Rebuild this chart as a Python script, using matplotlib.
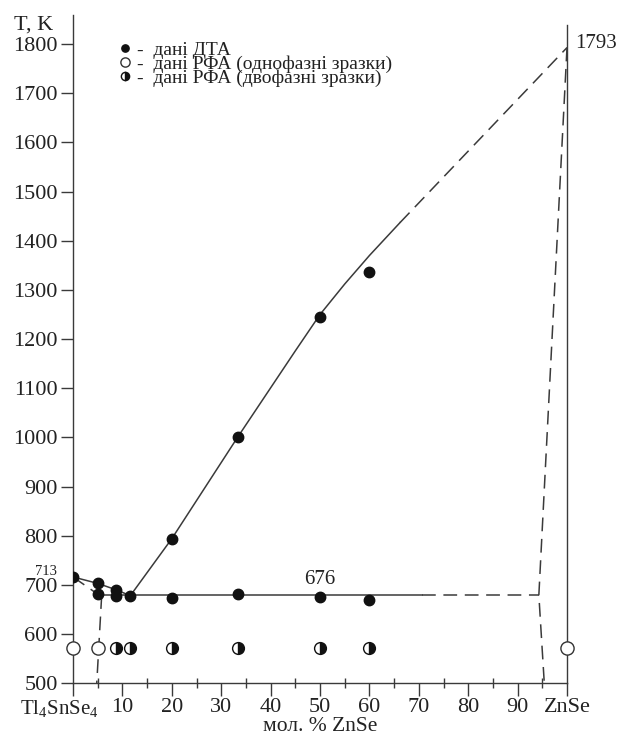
#!/usr/bin/env python3

import matplotlib
matplotlib.use('Agg')
import matplotlib.pyplot as plt
import matplotlib.transforms as mtransforms
from matplotlib.ticker import MultipleLocator, FixedLocator

plt.rcParams['font.family'] = ['Liberation Serif', 'DejaVu Serif']
plt.rcParams['mathtext.fontset'] = 'custom'
plt.rcParams['mathtext.rm'] = 'Liberation Serif'

# DTA points (filled)
dta_x = [0, 5, 5, 8.7, 8.7, 11.6, 20, 20, 33.3, 33.3, 50, 50, 60, 60]
dta_t = [716, 703, 682, 690, 677, 677, 674, 794, 1000, 681, 1245, 675, 1336, 670]

# XRD points at 573 K
rfa_one_x = [0, 5, 100]
rfa_two_x = [8.7, 11.6, 20, 33.3, 50, 60]
rfa_t = 571

# phase boundaries
liq_left_x = [0, 5, 8.7, 11.6]
liq_left_t = [716, 703, 690, 678]
liq_x = [11.6, 20, 33.3, 45, 50, 55, 60, 66.2]
liq_t = [678, 794, 1000, 1176, 1250, 1312, 1370, 1437]
liq_dash_x = [66.2, 100]
liq_dash_t = [1437, 1793]
sol_left_x = [0, 5]
sol_left_t = [716, 681]
solv_left_x = [5.8, 4.8]
solv_left_t = [679, 500]
eut_x = [5.5, 70.6]
eut_dash_x = [70.6, 94.3]
eut_t = 679
zn_sol_x = [100, 94.3, 95.4]
zn_sol_t = [1793, 679, 500]

xticks = [0, 10, 20, 30, 40, 50, 60, 70, 80, 90, 100]
xticklabels = ['Tl$_\\mathregular{4}$SnSe$_\\mathregular{4}$', '10', '20', '30', '40', '50',
               '60', '70', '80', '90', 'ZnSe']
yticks = list(range(500, 1801, 100))

lc = '#3a3a3a'
tc = '#222222'
dash = (0, (9, 5))
lw = 1.1

fig = plt.figure(figsize=(6.19, 7.33), dpi=100)
ax = fig.add_axes([0.118, 0.068, 0.798, 0.912])

ax.plot(liq_left_x, liq_left_t, color=lc, lw=lw)
ax.plot(liq_x, liq_t, color=lc, lw=lw)
ax.plot(liq_dash_x, liq_dash_t, color=lc, lw=lw, ls=dash)
ax.plot(sol_left_x, sol_left_t, color=lc, lw=lw, ls=dash)
ax.plot(solv_left_x, solv_left_t, color=lc, lw=lw, ls=dash)
ax.plot(eut_x, [eut_t, eut_t], color=lc, lw=lw)
ax.plot(eut_dash_x, [eut_t, eut_t], color=lc, lw=lw, ls=dash)
ax.plot(zn_sol_x, zn_sol_t, color=lc, lw=lw, ls=dash)

h1, = ax.plot(dta_x, dta_t, 'o', ms=7.5, color='#111111', ls='none', zorder=5)
h2, = ax.plot(rfa_one_x, [rfa_t] * len(rfa_one_x), 'o', ms=9.5, mfc='white',
              mec='#333333', mew=1.0, ls='none', zorder=5, clip_on=False)
h3, = ax.plot(rfa_two_x, [rfa_t] * len(rfa_two_x), 'o', ms=8.5, fillstyle='right',
              mfc='#111111', mfcalt='white', mec='#111111', mew=1.0,
              ls='none', zorder=5)

ax.legend([h1, h2, h3],
          ['-  дані ДТА', '-  дані РФА (однофазні зразки)',
           '-  дані РФА (двофазні зразки)'],
          loc='upper left', bbox_to_anchor=(0.065, 0.981), frameon=False,
          fontsize=14, markerscale=0.7, handlelength=0.6, handletextpad=0.35,
          labelspacing=-0.17, borderpad=0.2, labelcolor=tc)

ax.set_xlim(0, 100)
ax.set_ylim(500, 1860)
ax.spines['top'].set_visible(False)
ax.spines['right'].set_bounds(500, 1838)
for sp in ax.spines.values():
    sp.set_color(lc)
    sp.set_linewidth(1.0)

ax.xaxis.set_major_locator(FixedLocator(xticks))
ax.set_xticklabels(xticklabels)
ax.xaxis.set_minor_locator(MultipleLocator(5))
ax.set_yticks(yticks)
ax.tick_params(axis='both', which='major', direction='out', length=9, width=1.0,
               color=lc, labelsize=16, labelcolor=tc, pad=2)
ax.tick_params(axis='x', which='minor', direction='inout', length=7, width=1.0, color=lc)
ax.tick_params(axis='y', which='minor', left=False)

# first category label is wide, shift it left like the original
lab0 = ax.get_xticklabels()[0]
lab0.set_fontsize(15)
lab0.set_transform(lab0.get_transform() +
                   mtransforms.ScaledTranslation(-10 / 72, 0, fig.dpi_scale_trans))

ax.set_xlabel('мол. % ZnSe', fontsize=15.5, color=tc, labelpad=-2.5)
fig.text(0.055, 0.966, 'T, K', fontsize=16, color=tc, ha='center', va='center')

ax.text(-5.5, 727, '713', fontsize=10.5, color=tc, ha='center', va='center',
        clip_on=False)
ax.text(50, 711, '676', fontsize=15, color=tc, ha='center', va='center')
ax.text(101.6, 1802, '1793', fontsize=15, color=tc, ha='left', va='center',
        clip_on=False)

plt.savefig('out.png', dpi=100)
